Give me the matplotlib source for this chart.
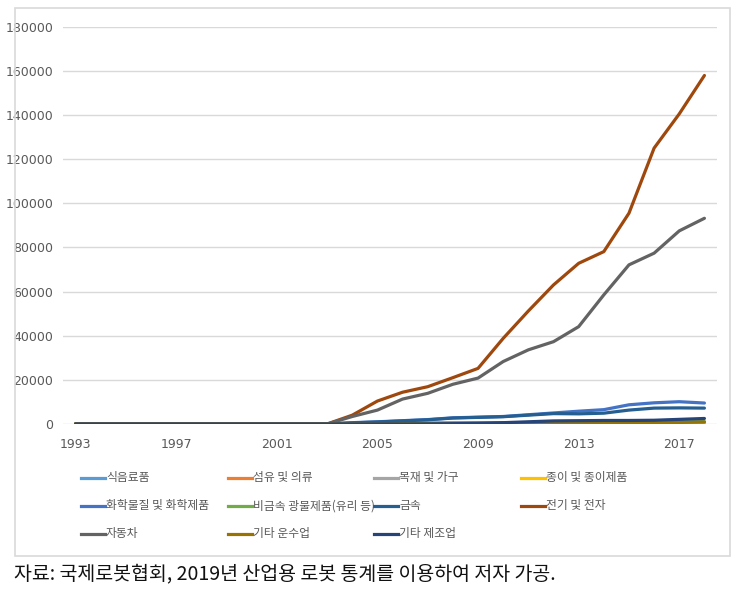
import matplotlib
matplotlib.use("Agg")
import matplotlib.pyplot as plt
from matplotlib.lines import Line2D
from matplotlib.patches import Rectangle

KR = ["Noto Sans CJK KR", "DejaVu Sans"]
NUM = ["Liberation Sans Narrow", "DejaVu Sans"]
TXT = "#595959"

years = list(range(1993, 2019))
zeros = [0] * 10  # 1993-2002

food = zeros + [0, 150, 250, 350, 400, 500, 550, 600, 650, 700, 750, 800, 850, 900, 950, 1000]
textile = zeros + [0, 20, 40, 60, 80, 100, 110, 120, 130, 140, 150, 160, 170, 180, 190, 200]
wood = zeros + [0, 20, 40, 60, 80, 100, 110, 120, 130, 140, 150, 160, 170, 180, 190, 200]
paper = zeros + [0, 30, 50, 70, 90, 110, 120, 130, 140, 150, 160, 170, 180, 190, 200, 210]
chem = zeros + [0, 600, 1000, 1500, 2000, 2800, 3100, 3400, 4200, 5000, 5800, 6500, 8700, 9600, 10100, 9500]
mineral = zeros + [0, 100, 200, 300, 400, 500, 550, 600, 650, 700, 750, 800, 850, 900, 950, 1000]
metal = zeros + [0, 500, 900, 1400, 1900, 2700, 3000, 3300, 4000, 4700, 4600, 4900, 6300, 7200, 7300, 7200]
elec = zeros + [0, 4000, 10400, 14400, 16900, 21000, 25200, 38800, 51200, 63000, 72800, 78100,
                95500, 125000, 140500, 157900]
auto = zeros + [0, 3400, 6300, 11300, 13900, 18000, 20800, 28300, 33600, 37300, 44100, 58500,
                72100, 77400, 87500, 93200]
transport = zeros + [0, 0, 0, 50, 100, 150, 200, 250, 300, 350, 400, 450, 500, 550, 700, 900]
other = zeros + [0, 0, 0, 0, 50, 150, 300, 600, 1000, 1400, 1500, 1600, 1600, 1700, 2100, 2500]

names = ["식음료품", "섬유 및 의류", "목재 및 가구", "종이 및 종이제품",
         "화학물질 및 화학제품", "비금속 광물제품(유리 등)", "금속", "전기 및 전자",
         "자동차", "기타 운수업", "기타 제조업"]
series = [food, textile, wood, paper, chem, mineral, metal, elec, auto, transport, other]
colors = ["#5B9BD5", "#ED7D31", "#A5A5A5", "#FFC000", "#4472C4", "#70AD47",
          "#255E91", "#9E480E", "#636363", "#997300", "#264478"]

fig = plt.figure(figsize=(7.5, 5.97), dpi=100)
W, H = 750, 597

# chart frame
fig.add_artist(Rectangle((15 / W, 1 - 556 / H), 715 / W, 548 / H, transform=fig.transFigure,
                         fill=False, edgecolor="#D9D9D9", linewidth=1.2))

ax = fig.add_axes([63 / W, 1 - 424 / H, 654 / W, 397.3 / H])
for vals, c in zip(series, colors):
    ax.plot(years, vals, color=c, linewidth=2.3, solid_joinstyle="round", solid_capstyle="round")

ax.set_xlim(1992.5, 2018.5)
ax.set_ylim(0, 180000)
ax.set_yticks(range(0, 180001, 20000))
ax.set_xticks(range(1993, 2018, 4))
ax.grid(axis="y", color="#D9D9D9", linewidth=1)
ax.set_axisbelow(True)
for s in ax.spines.values():
    s.set_visible(False)
ax.tick_params(length=0, colors=TXT, labelsize=9)
ax.tick_params(axis="y", pad=7)
ax.tick_params(axis="x", pad=10)
for lab in ax.get_xticklabels() + ax.get_yticklabels():
    lab.set_family(NUM)

# legend, row by row as in the original
col_x = [81, 228, 374, 521]
row_y = [478, 506, 534]
for i, (name, c) in enumerate(zip(names, colors)):
    x0 = col_x[i % 4]
    y0 = row_y[i // 4]
    fig.add_artist(Line2D([x0 / W, (x0 + 24) / W], [1 - y0 / H, 1 - y0 / H],
                          transform=fig.transFigure, color=c, linewidth=2.3))
    fig.text((x0 + 25) / W, 1 - y0 / H, name, family=KR, fontsize=8.5, color=TXT,
             ha="left", va="center")

fig.text(14 / W, 1 - 574 / H, "자료: 국제로봇협회, 2019년 산업용 로봇 통계를 이용하여 저자 가공.",
         family=KR, fontsize=14, color="#111111", ha="left", va="center")

fig.savefig("out.png", dpi=100)
